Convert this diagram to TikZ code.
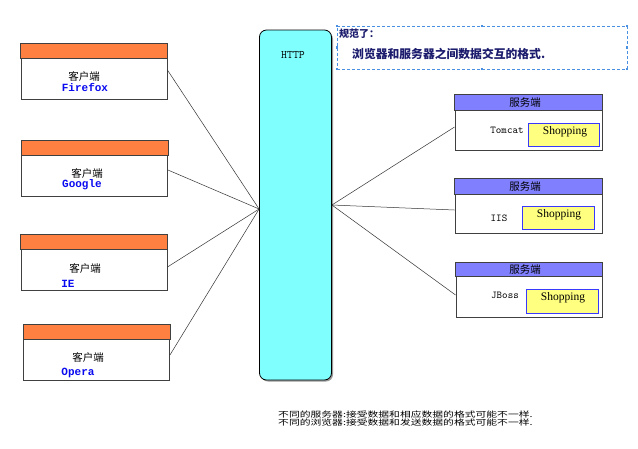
\documentclass[tikz,border=0pt]{standalone}
\usepackage{fontspec}
\usepackage{graphicx}
\newfontfamily\cjk{Noto Sans CJK SC}
\newfontfamily\mono{Liberation Mono}
\newfontfamily\serif{Liberation Serif}
\usetikzlibrary{calc}
\definecolor{hdrorange}{HTML}{FF8040}
\definecolor{srvhdr}{HTML}{8080FF}
\definecolor{shopfill}{HTML}{FFFF80}
\definecolor{shopborder}{HTML}{3838FF}
\definecolor{httpfill}{HTML}{80FFFF}
\definecolor{bluetxt}{HTML}{0A0AF0}
\definecolor{dashblue}{HTML}{4A90E2}
\definecolor{navy}{HTML}{1C1C6E}
\definecolor{bd}{HTML}{404040}
\tikzset{
  boxbody/.style={draw=bd, line width=0.9pt, fill=white, inner sep=0pt, minimum width=146pt, minimum height=55pt},
  cjktxt/.style={font=\cjk\fontsize{10.5}{12}\selectfont, inner sep=0pt},
  brw/.style={font=\mono\bfseries\fontsize{11}{12}\selectfont, text=bluetxt, inner sep=0pt},
  srvname/.style={font=\ttfamily\fontsize{10.5}{11}\selectfont, inner sep=0pt},
  shopbox/.style={draw=shopborder, line width=0.8pt, fill=shopfill, inner sep=0pt, minimum width=71pt, minimum height=23pt},
  shoptxt/.style={font=\serif\fontsize{11.5}{12}\selectfont, inner sep=0pt},
  conn/.style={draw=black!80, line width=0.5pt},
  handle/.style={fill=dashblue, inner sep=0pt, minimum size=2.2pt},
}
\begin{document}
\begin{tikzpicture}[x=1pt,y=-1pt]
\useasboundingbox (0,0) rectangle (638,448);
\fill[white] (0,0) rectangle (638,448);

% HTTP column
\fill[black!40, rounded corners=7pt] (261,32) rectangle (333,381.5);
\node[draw=black, line width=0.8pt, fill=httpfill, rounded corners=7pt, inner sep=0pt,
      minimum width=72pt, minimum height=350pt] (h) at (295.5,205) {};
\node[font=\ttfamily\fontsize{11.5}{12}\selectfont, inner sep=0pt] (htxt) at (293,55) {HTTP};
\coordinate (hl) at ($(h.west)+(0,4)$);
\coordinate (hr) at (h.east);

% clients
\node[boxbody] (c1) at (94,71.5) {};
\path[fill=hdrorange, draw=bd, line width=0.9pt] (c1.north west) rectangle ([yshift=-15pt]c1.north east);
\node[cjktxt] (c1t) at (84,76) {客户端};
\node[brw] (c1b) at (85,87) {Firefox};

\node[boxbody] (c2) at (94.5,168.5) {};
\path[fill=hdrorange, draw=bd, line width=0.9pt] (c2.north west) rectangle ([yshift=-15pt]c2.north east);
\node[cjktxt] (c2t) at (87,173) {客户端};
\node[brw] (c2b) at (82,185) {Google};

\node[boxbody] (c3) at (94,262.5) {};
\path[fill=hdrorange, draw=bd, line width=0.9pt] (c3.north west) rectangle ([yshift=-15pt]c3.north east);
\node[cjktxt] (c3t) at (85,268) {客户端};
\node[brw] (c3b) at (68,284) {IE};

\node[boxbody] (c4) at (96.5,352.5) {};
\path[fill=hdrorange, draw=bd, line width=0.9pt] (c4.north west) rectangle ([yshift=-15pt]c4.north east);
\node[cjktxt] (c4t) at (88,357) {客户端};
\node[brw] (c4b) at (78,373) {Opera};

% servers
\node[boxbody, minimum width=147pt] (s1) at (528.5,122.5) {};
\path[fill=srvhdr, draw=bd, line width=0.9pt] (s1.north west) rectangle ([yshift=-16pt]s1.north east);
\node[cjktxt] (s1h) at (525,103) {服务端};
\node[srvname] (s1n) at (507,130) {Tomcat};
\node[shopbox] (p1) at (563.5,134.5) {};
\node[shoptxt] (p1t) at (565,132) {Shopping};

\node[boxbody, minimum width=147pt, minimum height=54pt] (s2) at (528.5,206) {};
\path[fill=srvhdr, draw=bd, line width=0.9pt] (s2.north west) rectangle ([yshift=-16pt]s2.north east);
\node[cjktxt] (s2h) at (525,187) {服务端};
\node[srvname] (s2n) at (499,218) {IIS};
\node[shopbox, minimum width=72pt] (p2) at (558,217.5) {};
\node[shoptxt] (p2t) at (559,215) {Shopping};

\node[boxbody, minimum height=54pt] (s3) at (529,290) {};
\path[fill=srvhdr, draw=bd, line width=0.9pt] (s3.north west) rectangle ([yshift=-14pt]s3.north east);
\node[cjktxt] (s3h) at (525,270) {服务端};
\node[srvname] (s3n) at (505,295) {JBoss};
\node[shopbox, minimum width=72pt, minimum height=24pt] (p3) at (562,301) {};
\node[shoptxt] (p3t) at (563,298) {Shopping};

% connectors
\draw[conn] ([yshift=1.5pt]c1.east) -- (hl);
\draw[conn] ([yshift=-1.5pt]c2.east) -- (hl);
\draw[conn] ([yshift=-4.5pt]c3.east) -- (hl);
\draw[conn] ([yshift=-2.5pt]c4.east) -- (hl);
\draw[conn] (hr) -- ([yshift=-4.5pt]s1.west);
\draw[conn] (hr) -- ([yshift=-4pt]s2.west);
\draw[conn] (hr) -- ([yshift=-5pt]s3.west);

% dashed annotation
\node[draw=dashblue, dash pattern=on 3pt off 2pt, line width=0.7pt, inner sep=0pt,
      minimum width=290pt, minimum height=43pt] (note) at (482,47.5) {};
\foreach \a in {north west,north,north east,east,south east,south,south west,west}
  \node[handle] at (note.\a) {};
\node[font=\cjk\bfseries\fontsize{10}{12}\selectfont, text=navy, anchor=west, inner sep=0pt] (n1) at (339,34) {规范了：};
\node[font=\cjk\bfseries\fontsize{11.8}{13}\selectfont, text=navy, anchor=west, inner sep=0pt] (n2) at (352,54) {浏览器和服务器之间数据交互的格式.};

% bottom text
\node[font=\cjk\fontsize{10.8}{12}\selectfont, anchor=west, inner sep=0pt] (b1) at (278,415) {\scalebox{1}[0.72]{不同的服务器:接受数据和相应数据的格式可能不一样.}};
\node[font=\cjk\fontsize{10.8}{12}\selectfont, anchor=west, inner sep=0pt] (b2) at (278,423) {\scalebox{1}[0.72]{不同的浏览器:接受数据和发送数据的格式可能不一样.}};
\end{tikzpicture}
\end{document}
